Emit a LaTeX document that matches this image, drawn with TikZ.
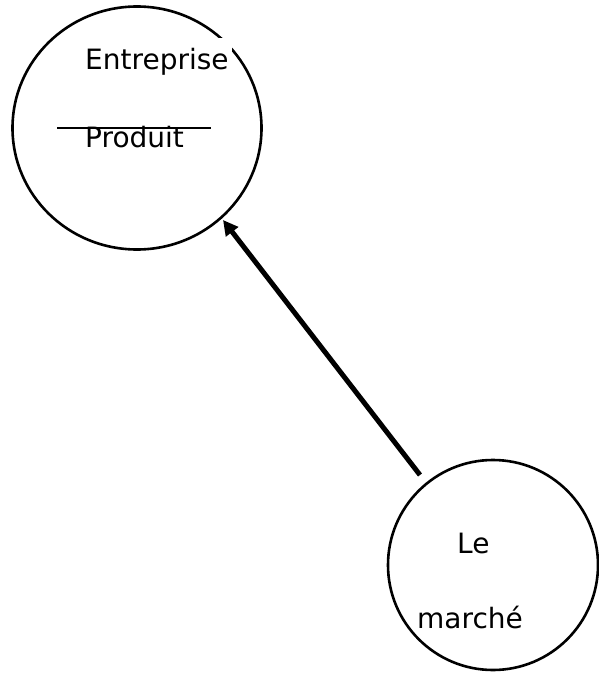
\documentclass[tikz,border=0pt]{standalone}
\usepackage{fontspec}
\setmainfont{DejaVu Sans}
\usetikzlibrary{arrows.meta,shapes.geometric}
\begin{document}
\begin{tikzpicture}[x=1pt,y=-1pt,
    ring/.style={draw, line width=2.6pt, inner sep=0pt},
    word/.style={font=\fontsize{28}{33}\selectfont, inner sep=0pt, anchor=base west},
    push/.style={line width=5pt, -{Triangle[length=15pt,width=15pt]}}]
  \useasboundingbox (0,0) rectangle (599,674);

  % the two circles
  \node[ring, ellipse, minimum width=249pt, minimum height=243pt] (ent) at (137,128) {};
  \node[ring, circle, minimum size=210pt] (mar) at (493,565) {};

  % text frame of the first label, which hides a bit of the outline
  \fill[white] (88,38) rectangle (232,80);

  % labels
  \node[word] (lent) at (85,70) {Entreprise};
  \node[word] (lprod) at (85,147) {Produit};
  \draw[line width=2.5pt] (57,128) -- (211,128);
  \node[word] (lle) at (457,553) {Le};
  \node[word] (lmar) at (417,628) {marché};

  % arrow from the market to the firm
  \coordinate (tail) at (420,475);
  \coordinate (head) at (223,220);
  \draw[push] (tail) -- (head);
\end{tikzpicture}
\end{document}
